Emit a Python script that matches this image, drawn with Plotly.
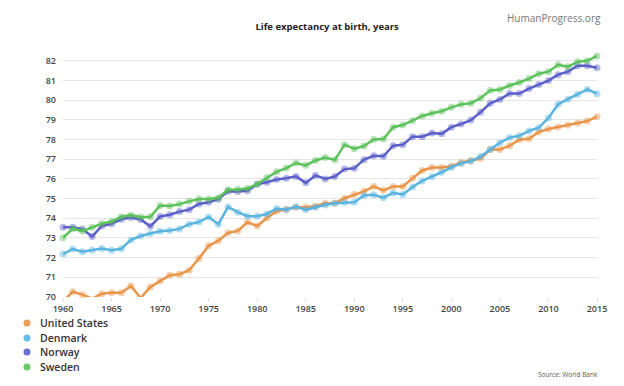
import plotly.graph_objects as go

years = list(range(1960, 2016))

united_states = [69.77, 70.27, 70.12, 69.92, 70.17, 70.21, 70.21, 70.56, 69.95, 70.51,
                 70.81, 71.11, 71.16, 71.36, 71.96, 72.60, 72.86, 73.26, 73.36, 73.80,
                 73.61, 74.01, 74.36, 74.46, 74.56, 74.56, 74.61, 74.77, 74.77, 75.02,
                 75.21, 75.37, 75.62, 75.42, 75.62, 75.62, 76.03, 76.43, 76.58, 76.58,
                 76.64, 76.84, 76.94, 77.04, 77.49, 77.49, 77.69, 77.99, 78.04, 78.39,
                 78.54, 78.64, 78.74, 78.84, 78.94, 79.16]
denmark = [72.18, 72.44, 72.30, 72.38, 72.46, 72.38, 72.45, 72.90, 73.10, 73.23,
           73.34, 73.38, 73.46, 73.70, 73.81, 74.07, 73.70, 74.58, 74.31, 74.11,
           74.10, 74.22, 74.50, 74.44, 74.59, 74.43, 74.56, 74.68, 74.76, 74.80,
           74.81, 75.16, 75.19, 75.05, 75.29, 75.21, 75.59, 75.90, 76.11, 76.34,
           76.59, 76.79, 76.90, 77.14, 77.49, 77.84, 78.10, 78.19, 78.44, 78.60,
           79.10, 79.80, 80.05, 80.30, 80.55, 80.33]
norway = [73.55, 73.55, 73.45, 73.07, 73.61, 73.72, 73.95, 74.04, 73.94, 73.59,
          74.09, 74.18, 74.34, 74.44, 74.73, 74.81, 74.97, 75.37, 75.36, 75.40,
          75.73, 75.83, 75.97, 76.03, 76.13, 75.80, 76.18, 76.00, 76.12, 76.50,
          76.54, 76.98, 77.18, 77.15, 77.69, 77.74, 78.15, 78.15, 78.33, 78.29,
          78.63, 78.79, 78.99, 79.39, 79.84, 80.04, 80.34, 80.34, 80.59, 80.80,
          81.00, 81.30, 81.45, 81.75, 81.75, 81.65]
sweden = [73.01, 73.47, 73.35, 73.55, 73.73, 73.84, 74.08, 74.16, 74.07, 74.08,
          74.65, 74.63, 74.72, 74.86, 74.98, 74.98, 75.04, 75.45, 75.46, 75.52,
          75.74, 76.06, 76.36, 76.55, 76.81, 76.69, 76.94, 77.09, 76.97, 77.74,
          77.54, 77.67, 78.00, 78.03, 78.63, 78.74, 78.96, 79.20, 79.34, 79.44,
          79.64, 79.79, 79.85, 80.10, 80.50, 80.55, 80.75, 80.90, 81.10, 81.35,
          81.45, 81.80, 81.70, 81.96, 82.00, 82.25]

series_names = ["United States", "Denmark", "Norway", "Sweden"]
series_values = [united_states, denmark, norway, sweden]
colors = ["#E8954A", "#5AB4E0", "#5B5FC9", "#5CC25A"]
halo = ["rgba(232,149,74,0.45)", "rgba(90,180,224,0.45)",
        "rgba(91,95,201,0.45)", "rgba(92,194,90,0.45)"]

x_ticks = list(range(1960, 2016, 5))
y_ticks = list(range(70, 83))

FONT = "Open Sans"
fig = go.Figure()
for name, vals, c, h in zip(series_names, series_values, colors, halo):
    fig.add_trace(go.Scatter(
        x=years, y=vals, name=name, mode="lines+markers",
        line=dict(color=c, width=2.5),
        marker=dict(color=h, size=7),
        cliponaxis=False, showlegend=False,
    ))

# Legend drawn manually (compact spacing like the reference)
leg_y = [-0.1066, -0.168, -0.2254, -0.2869]
for name, c, yy in zip(series_names, colors, leg_y):
    fig.add_shape(type="circle", xref="paper", yref="paper",
                  xsizemode="pixel", ysizemode="pixel",
                  xanchor=-0.0674, yanchor=yy,
                  x0=-3.5, x1=3.5, y0=-3.5, y1=3.5,
                  fillcolor=c, line=dict(width=0), opacity=0.9)
    fig.add_annotation(text=name, xref="paper", yref="paper",
                       x=-0.0468, y=yy, xanchor="left", yanchor="middle",
                       showarrow=False,
                       font=dict(family=FONT, size=10.5, color="#333", weight=600))

fig.add_annotation(text="HumanProgress.org", xref="paper", yref="paper",
                   x=1.0112, y=1.145, xanchor="right", yanchor="middle",
                   showarrow=False, font=dict(family=FONT, size=10, color="#777"))
fig.add_annotation(text="Source: World Bank", xref="paper", yref="paper",
                   x=1.0056, y=-0.3156, xanchor="right", yanchor="middle",
                   showarrow=False, font=dict(family=FONT, size=6.5, color="#555"))

fig.update_layout(
    width=616, height=378,
    margin=dict(l=55, r=27, t=45, b=89),
    paper_bgcolor="white", plot_bgcolor="white",
    title=dict(text="<b>Life expectancy at birth, years</b>",
               x=0.518, y=1 - 19 / 378, xanchor="center", yanchor="middle",
               xref="container", yref="container",
               font=dict(family=FONT, size=9.5, color="#222")),
    font=dict(family=FONT),
)
fig.update_xaxes(range=[1960, 2015], tickvals=x_ticks, ticktext=[str(v) for v in x_ticks],
                 showgrid=False, zeroline=False, showline=False,
                 ticks="outside", ticklen=3, tickcolor="#ddd",
                 tickfont=dict(family=FONT, size=9, color="#444", weight=600))
fig.update_yaxes(range=[70, 82.4], tickvals=y_ticks, ticktext=[str(v) for v in y_ticks],
                 showgrid=True, gridcolor="#e6e6e6", gridwidth=1, zeroline=False,
                 showline=False, ticks="", ticklabelstandoff=6,
                 tickfont=dict(family=FONT, size=9, color="#444", weight=600))

fig.write_html("out.html")
